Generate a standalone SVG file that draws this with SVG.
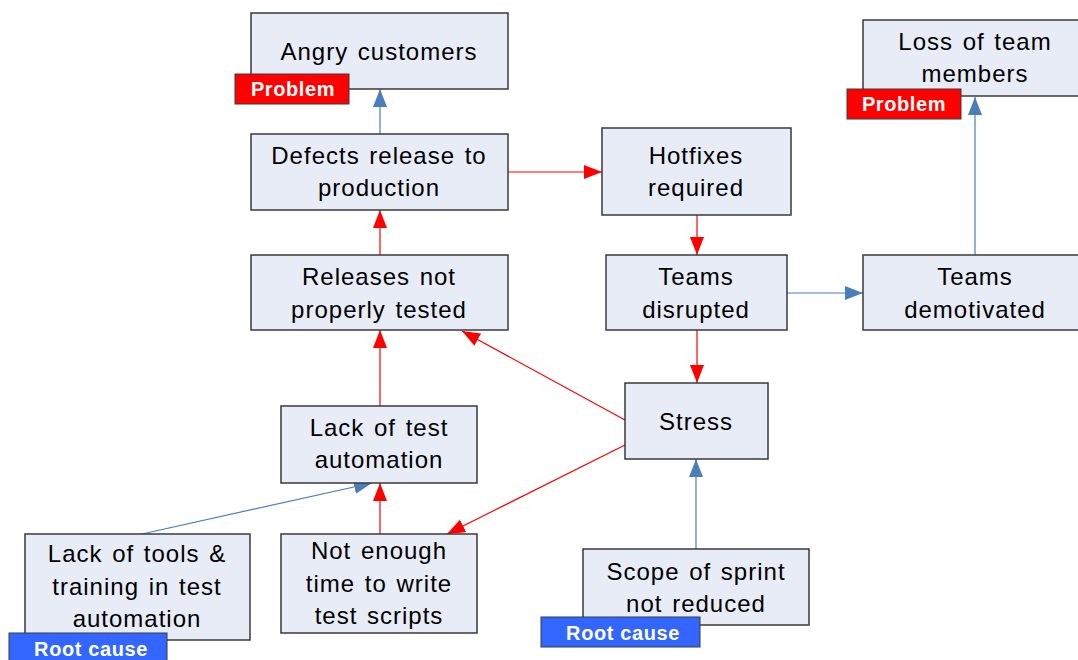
<svg xmlns="http://www.w3.org/2000/svg" width="1078" height="660" viewBox="0 0 1078 660">
<defs>
<marker id="ar" markerWidth="18" markerHeight="14" refX="18" refY="7" orient="auto" markerUnits="userSpaceOnUse"><path d="M0,0 L18,7 L0,14 Z" fill="#ff0000"/></marker>
<marker id="ab" markerWidth="18" markerHeight="14" refX="18" refY="7" orient="auto" markerUnits="userSpaceOnUse"><path d="M0,0 L18,7 L0,14 Z" fill="#4a7ebb"/></marker>
</defs>
<style>
.box{fill:#e8ecf7;stroke:#3a3a3a;stroke-width:1.5}
.t{font-family:"Liberation Sans",Arial,sans-serif;font-size:24px;letter-spacing:1px;word-spacing:2px;fill:#000;text-anchor:middle}
.tag{font-family:"Liberation Sans",Arial,sans-serif;font-size:20px;letter-spacing:0.6px;font-weight:bold;fill:#fff;text-anchor:middle}
.prob{fill:#ff0000;stroke:#3a3a3a;stroke-width:1}
.root{fill:#3366ff;stroke:#3a3a3a;stroke-width:1}
.r{stroke:#ff0000;stroke-width:1.2;fill:none;marker-end:url(#ar)}
.b{stroke:#4a7ebb;stroke-width:1.2;fill:none;marker-end:url(#ab)}
</style>
<rect width="1078" height="660" fill="#fff"/>
<g id="connectors">
<line class="b" x1="380" y1="134" x2="380" y2="89"/>
<line class="r" x1="380" y1="255" x2="380" y2="210"/>
<line class="r" x1="380" y1="406" x2="380" y2="330"/>
<line class="r" x1="380" y1="534" x2="380" y2="483"/>
<line class="b" x1="142" y1="534" x2="372" y2="483"/>
<line class="r" x1="508" y1="172" x2="602" y2="172"/>
<line class="r" x1="697" y1="215" x2="697" y2="255"/>
<line class="r" x1="697" y1="330" x2="697" y2="383"/>
<line class="b" x1="787" y1="293" x2="863" y2="293"/>
<line class="b" x1="975" y1="255" x2="975" y2="97"/>
<line class="r" x1="625" y1="420" x2="462" y2="331"/>
<line class="r" x1="625" y1="445" x2="447" y2="534"/>
<line class="b" x1="696" y1="549" x2="696" y2="459"/>
</g>
<g id="angry">
<rect class="box" x="251" y="13" width="257" height="76"/>
<text class="t" x="379" y="60">Angry customers</text>
<rect class="prob" x="235" y="74" width="114" height="30"/>
<text class="tag" x="293" y="96">Problem</text>
</g>
<g id="defects">
<rect class="box" x="251" y="134" width="257" height="76"/>
<text class="t" x="379" y="164">Defects release to</text>
<text class="t" x="379" y="196">production</text>
</g>
<g id="hotfixes">
<rect class="box" x="602" y="128" width="189" height="87"/>
<text class="t" x="696" y="164">Hotfixes</text>
<text class="t" x="696" y="196">required</text>
</g>
<g id="releases">
<rect class="box" x="251" y="255" width="257" height="75"/>
<text class="t" x="379" y="285">Releases not</text>
<text class="t" x="379" y="318">properly tested</text>
</g>
<g id="disrupted">
<rect class="box" x="606" y="255" width="181" height="75"/>
<text class="t" x="696" y="285">Teams</text>
<text class="t" x="696" y="318">disrupted</text>
</g>
<g id="demotivated">
<rect class="box" x="863" y="255" width="224" height="75"/>
<text class="t" x="975" y="285">Teams</text>
<text class="t" x="975" y="318">demotivated</text>
</g>
<g id="loss">
<rect class="box" x="863" y="20" width="224" height="76"/>
<text class="t" x="975" y="50">Loss of team</text>
<text class="t" x="975" y="82">members</text>
<rect class="prob" x="847" y="89" width="114" height="30"/>
<text class="tag" x="904" y="111">Problem</text>
</g>
<g id="stress">
<rect class="box" x="625" y="383" width="143" height="76"/>
<text class="t" x="696" y="430">Stress</text>
</g>
<g id="lackauto">
<rect class="box" x="281" y="406" width="196" height="77"/>
<text class="t" x="379" y="436">Lack of test</text>
<text class="t" x="379" y="468">automation</text>
</g>
<g id="notime">
<rect class="box" x="281" y="534" width="196" height="99"/>
<text class="t" x="379" y="559">Not enough</text>
<text class="t" x="379" y="592">time to write</text>
<text class="t" x="379" y="624">test scripts</text>
</g>
<g id="tools">
<rect class="box" x="25" y="534" width="225" height="106"/>
<text class="t" x="137" y="562">Lack of tools &amp;</text>
<text class="t" x="137" y="595">training in test</text>
<text class="t" x="137" y="627">automation</text>
<rect class="root" x="9" y="633" width="158" height="32"/>
<text class="tag" x="91" y="656">Root cause</text>
</g>
<g id="scope">
<rect class="box" x="583" y="549" width="226" height="76"/>
<text class="t" x="696" y="580">Scope of sprint</text>
<text class="t" x="696" y="612">not reduced</text>
<rect class="root" x="541" y="617" width="159" height="30"/>
<text class="tag" x="623" y="640">Root cause</text>
</g>
</svg>
